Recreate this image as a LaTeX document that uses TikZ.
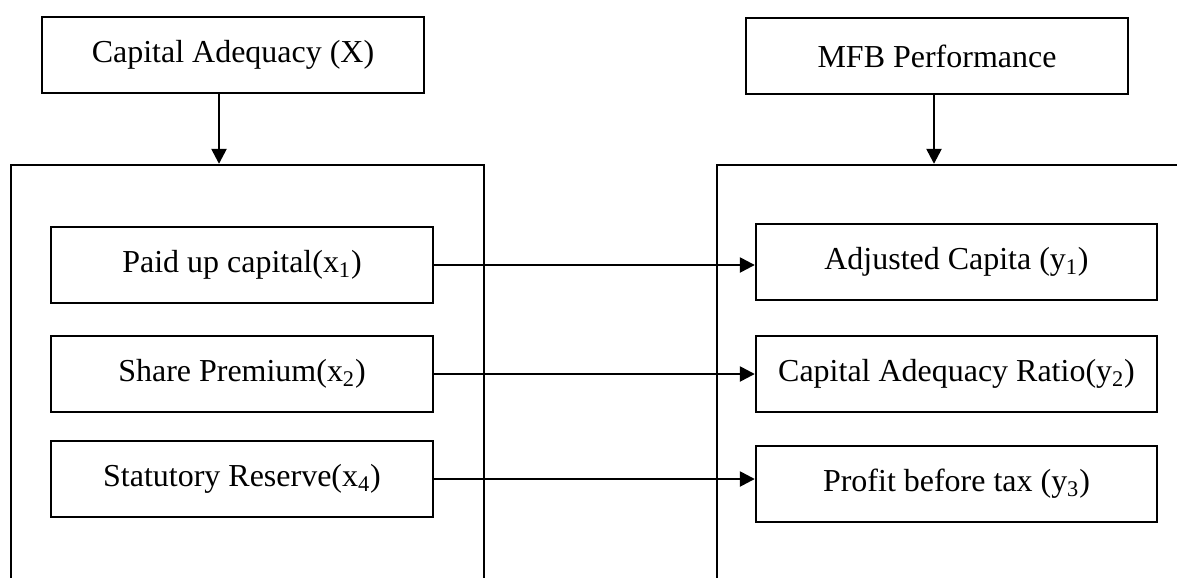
\documentclass[tikz,border=0pt]{standalone}
\usepackage{fontspec}
\setmainfont{Liberation Serif}
\usetikzlibrary{arrows.meta}

\begin{document}
\begin{tikzpicture}[
    x=0.02cm, y=-0.02cm,
    box/.style={draw, line width=1.4pt, rectangle, minimum width=7.64cm,
                minimum height=1.52cm, inner sep=0pt, font=\fontsize{18.2}{22}\selectfont},
    widebox/.style={box, minimum width=8.02cm},
    frame/.style={draw, line width=1.4pt, rectangle, inner sep=0pt, minimum height=9.1cm},
    link/.style={-{Triangle[length=0.3cm, width=0.3cm]}, line width=1.4pt},
]
\useasboundingbox (0,0) rectangle (1177,578);
\clip (0,0) rectangle (1177,578);

% Headings
\node[box] (capx) at (233,55) {Capital Adequacy (X)};
\node[box] (perf) at (937,56) {MFB Performance};

% Frames
\node[frame, minimum width=9.46cm] (xframe) at (247.5,392.5) {};
\node[frame, minimum width=10.06cm] (yframe) at (968.5,392.5) {};

% Variables
\node[box] (x1) at (242,265) {Paid up capital(x\textsubscript{1})};
\node[box] (x2) at (242,374) {Share Premium(x\textsubscript{2})};
\node[box] (x4) at (242,479) {Statutory Reserve(x\textsubscript{4})};
\node[widebox] (y1) at (956.5,262) {Adjusted Capita (y\textsubscript{1})};
\node[widebox] (y2) at (956.5,374) {Capital Adequacy Ratio(y\textsubscript{2})};
\node[widebox] (y3) at (956.5,484) {Profit before tax (y\textsubscript{3})};

% Links
\draw[link] ([xshift=-0.28cm]capx.south) -- ([xshift=-0.28cm]capx.south |- xframe.north);
\draw[link] ([xshift=-0.06cm]perf.south) -- ([xshift=-0.06cm]perf.south |- yframe.north);
\draw[link] (x1.east) -- (x1.east -| y1.west);
\draw[link] (x2.east) -- (x2.east -| y2.west);
\draw[link] (x4.east) -- (x4.east -| y3.west);

\end{tikzpicture}
\end{document}
